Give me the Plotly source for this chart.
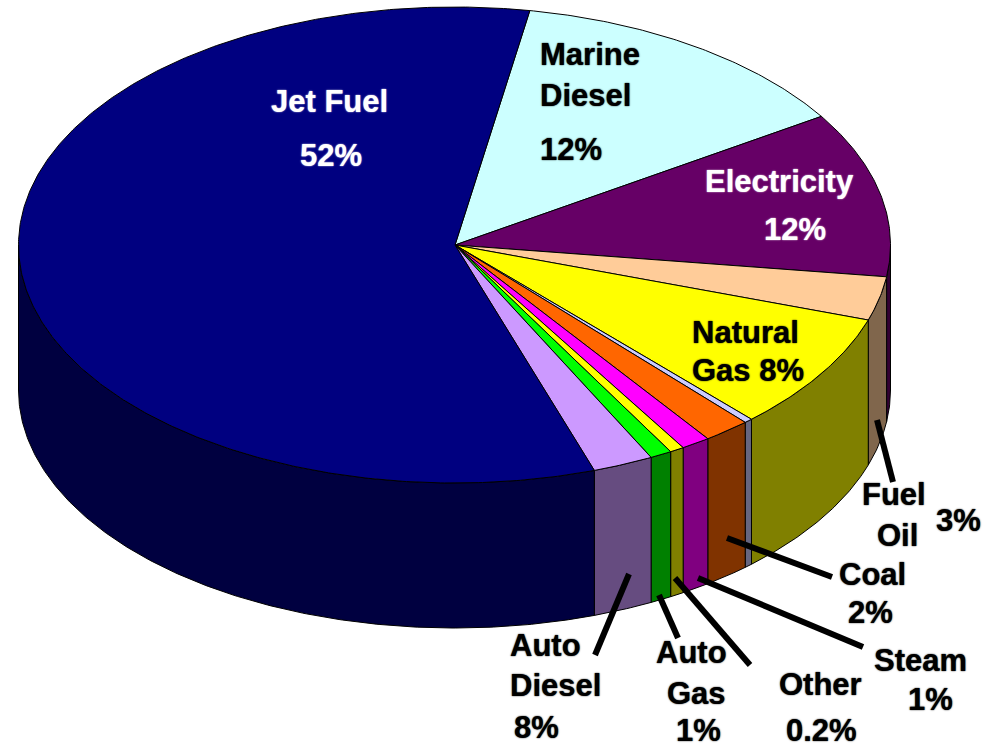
import math
import plotly.graph_objects as go

# Shares as drawn in the picture (percent of the full turn), clockwise from the Jet Fuel / Marine edge
slices = ["Marine Diesel", "Electricity", "Fuel Oil", "Natural Gas", "Unlabelled",
          "Coal", "Steam", "Other", "Auto Gas", "Auto Diesel", "Jet Fuel"]
shares = [13.15, 11.22, 2.97, 7.97, 0.31, 1.75, 1.08, 0.53, 0.81, 2.25, 57.96]
top_colors = ["#CCFFFF", "#660066", "#FFCC99", "#FFFF00", "#CCCCFF", "#FF6600",
              "#FF00FF", "#FFFF00", "#00FF00", "#CC99FF", "#000080"]
side_colors = ["#666680", "#330033", "#80664C", "#808000", "#666680", "#803300",
               "#800080", "#808000", "#008000", "#664C80", "#000040"]

# Pie geometry in the page's pixel space
CX, CY, RX, RY, DEPTH, START = 454.5, 245, 436, 238, 145, 9.95


def edge(theta, drop=0):
    a = math.radians(theta)
    return CX + RX * math.sin(a), CY - RY * math.cos(a) + drop


def arc(a, b, drop=0):
    n = max(2, int(abs(b - a) / 0.5) + 1)
    return [edge(a + (b - a) * i / (n - 1), drop) for i in range(n)]


fig = go.Figure()
spans = []
t = START
for s in shares:
    spans.append((t, t + s * 3.6))
    t += s * 3.6

# front wall first
for name, (a, b), col in zip(slices, spans, side_colors):
    lo, hi = max(a, 90), min(b, 270)
    if lo >= hi:
        continue
    pts = arc(lo, hi) + arc(hi, lo, DEPTH)
    pts.append(pts[0])
    fig.add_trace(go.Scatter(x=[p[0] for p in pts], y=[p[1] for p in pts], mode="lines",
                             fill="toself", fillcolor=col, line=dict(color="black", width=1),
                             name=name + " side", hoverinfo="skip"))

# top face
for name, (a, b), col in zip(slices, spans, top_colors):
    pts = [(455, CY)] + arc(a, b) + [(455, CY)]
    fig.add_trace(go.Scatter(x=[p[0] for p in pts], y=[p[1] for p in pts], mode="lines",
                             fill="toself", fillcolor=col, line=dict(color="black", width=1),
                             name=name, hoverinfo="name"))

# leader lines
leaders = [((877, 420), (893, 482)), ((727, 538), (832, 577)), ((698, 578), (863, 647)),
           ((675, 578), (750, 665)), ((659, 595), (678, 638)), ((629, 574), (595, 655))]
for (p, q) in leaders:
    fig.add_trace(go.Scatter(x=[p[0], q[0]], y=[p[1], q[1]], mode="lines",
                             line=dict(color="black", width=6), hoverinfo="skip"))

# text lines: text, centre x, centre y, colour
labels = [
    ("Jet Fuel", 329, 101, "white"), ("52%", 331, 155, "white"),
    ("Marine", 590, 54, "black"), ("Diesel", 585, 95, "black"), ("12%", 571, 149, "black"),
    ("Electricity", 779, 181, "white"), ("12%", 795, 229, "white"),
    ("Natural", 745, 332, "black"), ("Gas 8%", 748, 370, "black"),
    ("Fuel", 894, 494, "black"), ("Oil", 897, 535, "black"), ("3%", 958, 520, "black"),
    ("Coal", 872, 574, "black"), ("2%", 870, 612, "black"),
    ("Steam", 920, 660, "black"), ("1%", 930, 699, "black"),
    ("Other", 820, 684, "black"), ("0.2%", 821, 730, "black"),
    ("Auto", 691, 652, "black"), ("Gas", 696, 693, "black"), ("1%", 698, 730, "black"),
    ("Auto", 545, 645, "black"), ("Diesel", 555, 685, "black"), ("8%", 536, 727, "black"),
]
for txt, x, y, col in labels:
    fig.add_annotation(x=x, y=y, text="<b>" + txt + "</b>", showarrow=False, xanchor="center",
                       yanchor="middle",
                       font=dict(family="Liberation Sans", size=31, color=col,
                                 shadow="0 0 1.5px " + col))

fig.update_layout(
    width=990, height=748, margin=dict(l=0, r=0, t=0, b=0), showlegend=False,
    paper_bgcolor="white", plot_bgcolor="white",
    xaxis=dict(range=[0, 990], visible=False, fixedrange=True),
    yaxis=dict(range=[748, 0], visible=False, fixedrange=True),
)
fig.write_html("out.html", config=dict(displayModeBar=False),
               post_script="document.body.style.margin='0';document.body.style.overflow='hidden';")
